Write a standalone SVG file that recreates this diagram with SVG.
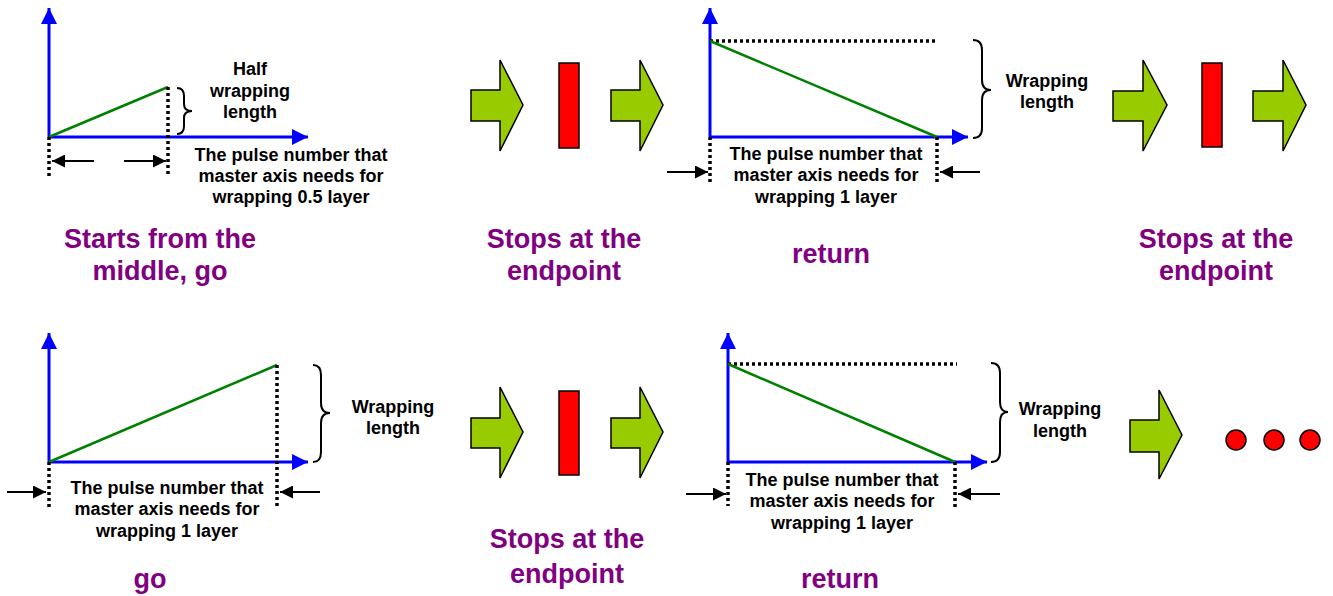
<svg xmlns="http://www.w3.org/2000/svg" width="1333" height="596" viewBox="0 0 1333 596">
<defs>
<style>
.ax{stroke:#0000FF;stroke-width:3;fill:none}
.gr{stroke:#008000;stroke-width:2.5;fill:none}
.dot{stroke:#000;stroke-width:3.5;fill:none;stroke-dasharray:3 3}
.br{stroke:#000;stroke-width:2;fill:none}
.ka{stroke:#000;stroke-width:2.2;fill:none}
.big{fill:#99CC00;stroke:#000;stroke-width:1.5;stroke-linejoin:miter}
.red{fill:#FF0000;stroke:#000;stroke-width:1.5}
.t{font-family:"Liberation Sans",Arial,sans-serif;font-weight:bold;font-size:18px;fill:#000;text-anchor:middle}
.p{font-family:"Liberation Sans",Arial,sans-serif;font-weight:bold;font-size:27px;fill:#800080;text-anchor:middle}
</style>
<marker id="ba" viewBox="0 0 16 16" markerWidth="16" markerHeight="16" refX="16" refY="8" orient="auto" markerUnits="userSpaceOnUse"><path d="M0,0 L16,8 L0,16 z" fill="#0000FF"/></marker>
<marker id="ka" viewBox="0 0 13 13" markerWidth="13" markerHeight="13" refX="13" refY="6.5" orient="auto" markerUnits="userSpaceOnUse"><path d="M0,0 L13,6.5 L0,13 z" fill="#000"/></marker>
</defs>
<rect width="1333" height="596" fill="#fff"/>

<g id="panel-start">
<line class="ax" x1="49" y1="137" x2="49" y2="8" marker-end="url(#ba)"/>
<line class="ax" x1="49" y1="137" x2="308" y2="137" marker-end="url(#ba)"/>
<line class="gr" x1="49" y1="137" x2="168" y2="87"/>
<line class="dot" x1="168" y1="87" x2="168" y2="176"/>
<line class="dot" x1="49" y1="137" x2="49" y2="176"/>
<path class="br" d="M177,88 Q184,88 184,96 L184,104 Q184,111 192,111 Q184,111 184,118 L184,126 Q184,134 177,134"/>
<line class="ka" x1="94" y1="161" x2="52" y2="161" marker-end="url(#ka)"/>
<line class="ka" x1="124" y1="161" x2="166" y2="161" marker-end="url(#ka)"/>
<text class="t" x="250" y="75">Half</text>
<text class="t" x="250" y="97">wrapping</text>
<text class="t" x="250" y="118">length</text>
<text class="t" x="291" y="161">The pulse number that</text>
<text class="t" x="291" y="182">master axis needs for</text>
<text class="t" x="291" y="203">wrapping 0.5 layer</text>
<text class="p" x="160" y="248">Starts from the</text>
<text class="p" x="160" y="280">middle, go</text>
</g>

<g id="stop-1">
<rect class="red" x="559" y="63" width="20" height="85"/>
<text class="p" x="564" y="248">Stops at the</text>
<text class="p" x="564" y="280">endpoint</text>
</g>

<g id="panel-return-1">
<line class="ax" x1="710" y1="137" x2="710" y2="8" marker-end="url(#ba)"/>
<line class="ax" x1="710" y1="137" x2="968" y2="137" marker-end="url(#ba)"/>
<line class="dot" x1="710" y1="41" x2="938" y2="41"/>
<line class="gr" x1="710" y1="41" x2="937" y2="137"/>
<line class="dot" x1="710" y1="137" x2="710" y2="182"/>
<line class="dot" x1="937" y1="137" x2="937" y2="182"/>
<path class="br" d="M973,40 Q982,40 982,50 L982,80 Q982,90 991,90 Q982,90 982,100 L982,128 Q982,138 973,138"/>
<line class="ka" x1="667" y1="172" x2="708" y2="172" marker-end="url(#ka)"/>
<line class="ka" x1="980" y1="172" x2="940" y2="172" marker-end="url(#ka)"/>
<text class="t" x="1047" y="87">Wrapping</text>
<text class="t" x="1047" y="108">length</text>
<text class="t" x="826" y="160">The pulse number that</text>
<text class="t" x="826" y="181">master axis needs for</text>
<text class="t" x="826" y="203">wrapping 1 layer</text>
<text class="p" x="831" y="263">return</text>
</g>

<g id="stop-2">
<rect class="red" x="1202" y="63" width="20" height="84"/>
<text class="p" x="1216" y="248">Stops at the</text>
<text class="p" x="1216" y="280">endpoint</text>
</g>

<g id="panel-go">
<line class="ax" x1="49" y1="462" x2="49" y2="333" marker-end="url(#ba)"/>
<line class="ax" x1="49" y1="462" x2="308" y2="462" marker-end="url(#ba)"/>
<line class="gr" x1="49" y1="462" x2="277" y2="365"/>
<line class="dot" x1="277" y1="365" x2="277" y2="509"/>
<line class="dot" x1="49" y1="462" x2="49" y2="510"/>
<path class="br" d="M313,365 Q321,365 321,375 L321,403 Q321,413 330,413 Q321,413 321,423 L321,452 Q321,462 313,462"/>
<line class="ka" x1="7" y1="492" x2="46" y2="492" marker-end="url(#ka)"/>
<line class="ka" x1="320" y1="492" x2="280" y2="492" marker-end="url(#ka)"/>
<text class="t" x="393" y="413">Wrapping</text>
<text class="t" x="393" y="434">length</text>
<text class="t" x="167" y="494">The pulse number that</text>
<text class="t" x="167" y="515">master axis needs for</text>
<text class="t" x="167" y="537">wrapping 1 layer</text>
<text class="p" x="150" y="588">go</text>
</g>

<g id="stop-3">
<rect class="red" x="559" y="391" width="20" height="84"/>
<text class="p" x="567" y="548">Stops at the</text>
<text class="p" x="567" y="583">endpoint</text>
</g>

<g id="panel-return-2">
<line class="ax" x1="728" y1="462" x2="728" y2="333" marker-end="url(#ba)"/>
<line class="ax" x1="728" y1="462" x2="987" y2="462" marker-end="url(#ba)"/>
<line class="dot" x1="728" y1="364" x2="957" y2="364"/>
<line class="gr" x1="728" y1="364" x2="955" y2="462"/>
<line class="dot" x1="728" y1="462" x2="728" y2="506"/>
<line class="dot" x1="955" y1="462" x2="955" y2="507"/>
<path class="br" d="M991,363 Q1000,363 1000,373 L1000,402 Q1000,412 1008,412 Q1000,412 1000,422 L1000,452 Q1000,462 991,462"/>
<line class="ka" x1="686" y1="494" x2="726" y2="494" marker-end="url(#ka)"/>
<line class="ka" x1="1000" y1="494" x2="958" y2="494" marker-end="url(#ka)"/>
<text class="t" x="1060" y="415">Wrapping</text>
<text class="t" x="1060" y="437">length</text>
<text class="t" x="842" y="486">The pulse number that</text>
<text class="t" x="842" y="507">master axis needs for</text>
<text class="t" x="842" y="529">wrapping 1 layer</text>
<text class="p" x="840" y="588">return</text>
</g>

<g id="ellipsis">
<circle class="red" cx="1236" cy="440" r="10"/>
<circle class="red" cx="1274" cy="440" r="10"/>
<circle class="red" cx="1310" cy="440" r="10"/>
</g>

<g id="connectors">
<path class="big" d="M471,90 L500,90 L500,60 L523,105 L500,151 L500,121 L471,121 Z"/>
<path class="big" d="M611,90 L640,90 L640,60 L663,105 L640,151 L640,121 L611,121 Z"/>
<path class="big" d="M1113,91 L1143,91 L1143,60 L1167,105 L1143,151 L1143,121 L1113,121 Z"/>
<path class="big" d="M1253,91 L1283,91 L1283,60 L1306,105 L1283,151 L1283,121 L1253,121 Z"/>
<path class="big" d="M471,418 L500,418 L500,387 L523,432 L500,478 L500,448 L471,448 Z"/>
<path class="big" d="M611,418 L640,418 L640,387 L663,432 L640,478 L640,448 L611,448 Z"/>
<path class="big" d="M1130,420 L1159,420 L1159,390 L1182,435 L1159,479 L1159,452 L1130,452 Z"/>
</g>
</svg>
